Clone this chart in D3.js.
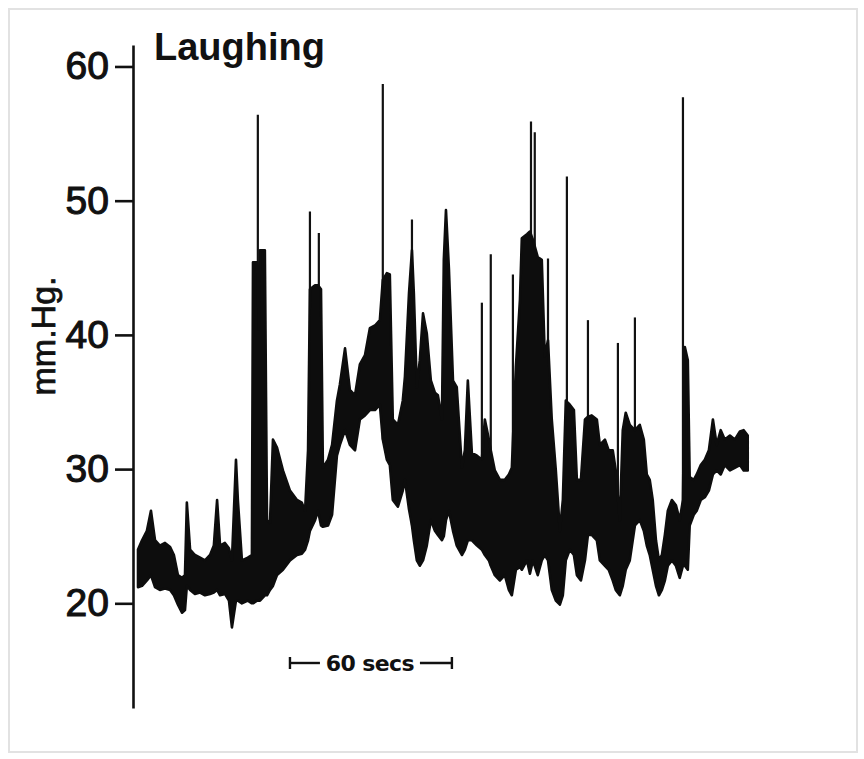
<!DOCTYPE html>
<html>
<head>
<meta charset="utf-8">
<script src="https://cdn.jsdelivr.net/npm/d3@7"></script>
<style>
  html, body { margin: 0; padding: 0; background: #fff; }
  svg { display: block; }
</style>
</head>
<body>
<script>
// Intra-abdominal pressure trace recorded while laughing.
// The pulse-rate oscillation is drawn as a band between its lower and upper
// envelope; brief pressure spikes are drawn as thin lines above the band.

const timeSec = [
  0, 1.5, 3.3, 4.8, 6.3, 8.1, 10.0, 11.9, 13.3, 14.8, 16.3, 17.4, 18.1, 19.3, 21.1,
  23.0, 24.8, 26.7, 28.1, 29.3, 30.4, 32.2, 33.7, 34.8, 36.3, 37.0, 38.5, 40.7, 42.2,
  42.6, 44.1, 44.8, 45.2, 47.0, 47.8, 48.9, 50.0, 51.5, 53.7, 56.3, 58.9, 60.7, 61.9,
  63.0, 63.7, 65.6, 66.7, 67.8, 68.5, 70.4, 71.9, 73.7, 74.8, 76.7, 78.5, 80.4, 82.2,
  84.1, 85.9, 87.8, 89.6, 90.7, 92.2, 93.3, 94.4, 96.3, 98.1, 98.9, 100.4, 101.5,
  102.2, 103.3, 104.4, 105.6, 107.0, 108.5, 110.0, 111.1, 112.6, 113.3, 114.1, 115.2,
  116.7, 118.1,
  120.0, 121.1, 122.2, 123.7, 125.6, 127.4, 128.5, 130.0, 130.7, 132.2, 134.1, 135.9,
  137.4, 138.5, 140.0, 141.5, 142.2, 144.1, 145.2, 146.3, 148.1, 149.6, 150.7, 151.9,
  153.3, 154.8, 156.3, 157.4, 158.5, 160.0, 161.5, 162.6, 164.1, 165.6, 166.7, 168.1,
  170.0, 171.1, 173.0, 174.4, 175.9, 177.0, 178.5, 179.6, 180.7, 182.2, 184.1, 185.9,
  187.4, 188.5, 189.6, 190.7, 191.9, 193.0, 194.1, 195.2, 196.3, 197.8, 199.3, 200.7,
  201.9, 202.6, 203.7, 204.4, 205.9, 207.0, 208.5, 210.0, 211.5, 213.0, 214.4, 215.9,
  217.4, 219.3, 221.1, 223.0, 224.4, 225.9
];

const upperMmHg = [
  24.0, 24.7, 25.4, 26.9, 24.7, 24.3, 24.5, 24.2, 23.6, 22.1, 21.9, 22.1, 27.5, 24.0, 23.6,
  23.4, 23.2, 23.6, 24.3, 27.7, 24.3, 24.5, 24.1, 23.2, 30.7, 27.7, 23.2, 23.4, 23.6,
  45.4, 45.4, 40.4, 46.3, 46.3, 26.2, 26.0, 32.2, 31.6, 29.9, 28.4, 27.7, 27.5, 26.9,
  31.4, 43.4, 43.7, 43.7, 43.4, 30.1, 30.7, 31.8, 35.1, 36.3, 39.0, 35.9, 35.5, 37.8,
  38.5, 40.5, 40.7, 41.1, 44.1, 44.6, 44.5, 33.7, 33.3, 35.1, 36.9, 43.1, 46.3,
  43.1, 36.1, 38.1, 41.6, 40.1, 36.6, 35.7, 35.5, 33.7, 45.6, 49.3, 44.9,
  36.6, 36.1,
  30.1, 31.4, 36.6, 31.2, 31.0, 30.7, 33.7, 32.2, 31.4, 29.9, 29.2, 29.2,
  29.6, 30.1, 37.6, 42.6, 47.2, 47.5, 47.7, 47.1, 45.8, 45.6, 38.4, 39.6,
  33.7, 29.9, 25.4, 27.7, 35.1, 34.8, 34.4, 29.2, 29.2, 33.7, 33.9, 34.0,
  33.7, 31.8, 32.2, 31.4, 31.4, 29.9, 26.2, 32.9, 34.2, 33.3, 32.9, 33.3,
  32.2, 29.6, 29.2, 27.7, 24.7, 23.2, 23.6, 25.1, 26.9, 27.7, 27.3, 26.2,
  27.7, 39.1, 38.1, 29.4, 29.2, 29.6, 30.3, 30.7, 31.4, 33.7, 31.8, 32.9,
  32.2, 32.5, 32.2, 32.8, 32.9, 32.5
];

const lowerMmHg = [
  21.2, 21.3, 21.7, 22.1, 21.2, 21.0, 21.1, 21.0, 20.6, 19.9, 19.3, 19.5, 21.3, 21.0, 20.7,
  20.8, 20.6, 20.7, 20.8, 21.0, 20.6, 20.7, 20.2, 18.2, 20.2, 20.2, 20.0, 20.2, 20.0,
  20.0, 20.2, 20.2, 20.2, 20.6, 20.6, 21.0, 21.3, 22.1, 22.5, 23.2, 23.6, 23.7, 24.0,
  24.7, 25.4, 26.2, 26.9, 25.8, 25.7, 25.8, 26.6, 31.0, 31.8, 32.9, 31.8, 31.4, 33.7,
  34.0, 34.4, 34.4, 34.8, 32.2, 30.7, 30.3, 27.7, 27.2, 28.4, 29.2, 27.0, 25.8,
  24.7, 23.2, 22.8, 23.2, 24.3, 26.2, 25.4, 25.1, 24.7, 25.0, 26.2, 26.9,
  25.4, 24.3,
  23.6, 24.0, 24.7, 24.7, 24.3, 24.0, 23.6, 23.2, 22.8, 22.1, 21.7, 22.1,
  21.0, 20.6, 22.5, 22.7, 22.5, 23.2, 22.2, 23.2, 22.1, 23.2, 23.6, 23.2,
  21.0, 20.2, 19.9, 20.6, 23.2, 24.0, 23.6, 22.1, 21.7, 23.2, 25.1, 25.1,
  24.7, 23.2, 22.8, 22.5, 21.7, 21.0, 20.6, 21.3, 22.5, 23.2, 25.8, 26.2,
  25.4, 24.3, 23.6, 22.5, 21.3, 20.6, 21.0, 21.7, 22.8, 23.2, 22.8, 21.9,
  22.8, 22.8, 22.5, 25.8, 26.6, 26.9, 27.7, 27.9, 28.4, 29.6, 29.9, 29.6,
  30.3, 29.9, 30.1, 30.3, 29.9, 29.9
];

// Short pressure spikes: time of each spike and its peak pressure.
const spikeTime = [44.4, 63.7, 67.0, 90.7, 101.5, 127.4, 130.7, 138.9, 145.6, 147.0, 151.9, 158.9, 166.7, 177.8, 184.1, 201.9];
const spikePeak = [56.4, 49.2, 47.6, 58.7, 48.6, 42.4, 46.0, 44.5, 55.9, 55.1, 45.7, 51.8, 41.1, 39.4, 41.3, 57.7];

const yTicks = [20, 30, 40, 50, 60];
const yLabel = "mm.Hg.";
const title = "Laughing";
const scaleBarStart = 56.3;   // seconds
const scaleBarLength = 60;    // seconds
const scaleBarLabel = "60 secs";

const W = 864, H = 759;
const svg = d3.select("body").append("svg").attr("width", W).attr("height", H);

// faint frame of the printed page
svg.append("rect")
  .attr("x", 9).attr("y", 9).attr("width", W - 16).attr("height", H - 16)
  .attr("fill", "#fff").attr("stroke", "#e2e2e2").attr("stroke-width", 2);

const x = d3.scaleLinear().domain([0, 226]).range([138, 748]);
const y = d3.scaleLinear().domain([12.2, 61.6]).range([708, 45]);

const trace = timeSec.map((t, i) => ({ t, hi: upperMmHg[i], lo: lowerMmHg[i] }));

// spikes: from the lower envelope at that moment up to the peak
const bis = d3.bisector(d => d.t).left;
function lowAt(t) {
  const i = Math.min(Math.max(bis(trace, t), 1), trace.length - 1);
  const a = trace[i - 1], b = trace[i];
  const f = (t - a.t) / (b.t - a.t);
  return a.lo + f * (b.lo - a.lo);
}
svg.append("g")
  .selectAll("line")
  .data(spikeTime.map((t, i) => ({ t, peak: spikePeak[i] })))
  .join("line")
  .attr("x1", d => x(d.t)).attr("x2", d => x(d.t))
  .attr("y1", d => y(lowAt(d.t))).attr("y2", d => y(d.peak))
  .attr("stroke", "#111").attr("stroke-width", 2.2);

// pressure band
const band = d3.area()
  .x(d => x(d.t))
  .y0(d => y(d.lo))
  .y1(d => y(d.hi))
  .curve(d3.curveLinear);

svg.append("path")
  .datum(trace)
  .attr("d", band)
  .attr("fill", "#0d0d0d")
  .attr("stroke", "#0d0d0d")
  .attr("stroke-width", 2.6)
  .attr("stroke-linejoin", "round");

// y axis
const axis = d3.axisLeft(y)
  .tickValues(yTicks)
  .tickSize(18)
  .tickSizeOuter(0)
  .tickPadding(6)
  .tickFormat(d3.format("d"));

const gAxis = svg.append("g")
  .attr("transform", "translate(133,0)")
  .call(axis);
gAxis.select(".domain").attr("stroke", "#111").attr("stroke-width", 2.6);
gAxis.selectAll(".tick line").attr("stroke", "#111").attr("stroke-width", 2.6);
gAxis.selectAll(".tick text")
  .attr("fill", "#111")
  .attr("stroke", "#111")
  .attr("stroke-width", 1.1)
  .style("font-family", "'Liberation Sans', Arial, sans-serif")
  .style("font-size", "39px");

// axis title
svg.append("text")
  .attr("transform", "translate(55,336) rotate(-90)")
  .attr("text-anchor", "middle")
  .attr("fill", "#111")
  .attr("stroke", "#111")
  .attr("stroke-width", 0.8)
  .style("font-family", "'Liberation Sans', Arial, sans-serif")
  .style("font-size", "34px")
  .text(yLabel);

// chart title
svg.append("text")
  .attr("x", 154).attr("y", 60)
  .attr("fill", "#111")
  .style("font-family", "'Liberation Sans', Arial, sans-serif")
  .style("font-size", "38px")
  .style("font-weight", "bold")
  .text(title);

// time scale bar
const sb0 = x(scaleBarStart), sb1 = x(scaleBarStart + scaleBarLength);
const sbY = 663, sbMid = (sb0 + sb1) / 2, gap = 51;
const gBar = svg.append("g").attr("stroke", "#111").attr("stroke-width", 2.4);
gBar.append("line").attr("x1", sb0).attr("x2", sbMid - gap).attr("y1", sbY).attr("y2", sbY);
gBar.append("line").attr("x1", sbMid + gap - 2).attr("x2", sb1).attr("y1", sbY).attr("y2", sbY);
gBar.append("line").attr("x1", sb0).attr("x2", sb0).attr("y1", sbY - 6).attr("y2", sbY + 6);
gBar.append("line").attr("x1", sb1).attr("x2", sb1).attr("y1", sbY - 6).attr("y2", sbY + 6);
svg.append("text")
  .attr("x", sbMid - 1).attr("y", sbY + 8)
  .attr("text-anchor", "middle")
  .attr("fill", "#111")
  .style("font-family", "'DejaVu Sans', sans-serif")
  .style("font-size", "22px")
  .style("font-weight", "bold")
  .style("letter-spacing", "-0.6px")
  .text(scaleBarLabel);
</script>
</body>
</html>
